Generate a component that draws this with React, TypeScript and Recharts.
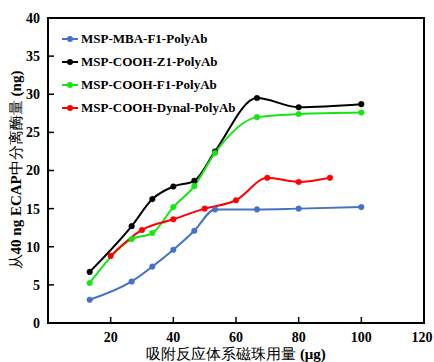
import { LineChart, Line, XAxis, YAxis } from "recharts";

const doseA = [13.3, 26.7, 33.3, 40, 46.7, 53.3, 66.7, 80, 100];
const doseDynal = [20, 30, 40, 50, 60, 70, 80, 90];

const mbaF1 = [3.05, 5.45, 7.4, 9.6, 12.1, 14.9, 14.9, 15.0, 15.2];
const coohZ1 = [6.7, 12.7, 16.25, 17.9, 18.65, 22.5, 29.5, 28.3, 28.7];
const coohF1 = [5.25, 11.0, 11.8, 15.2, 17.95, 22.3, 27.0, 27.4, 27.6];
const coohDynal = [8.8, 12.2, 13.6, 15.0, 16.1, 19.05, 18.5, 19.05];

const xTicks = [20, 40, 60, 80, 100, 120];
const yTicks = [0, 5, 10, 15, 20, 25, 30, 35, 40];

const toPoints = (xs: number[], ys: number[]) => xs.map((x, i) => ({ x, y: ys[i] }));

const series = [
  { name: "MSP-MBA-F1-PolyAb", color: "#4472c4", data: toPoints(doseA, mbaF1) },
  { name: "MSP-COOH-Z1-PolyAb", color: "#000000", data: toPoints(doseA, coohZ1) },
  { name: "MSP-COOH-F1-PolyAb", color: "#14e614", data: toPoints(doseA, coohF1) },
  { name: "MSP-COOH-Dynal-PolyAb", color: "#ff0000", data: toPoints(doseDynal, coohDynal) },
];

const serif = '"Liberation Serif", "Times New Roman", serif';
const MARGIN = 8;

// ticks point inward: a thin rect for the mark, then the label
const XTick = (p: any) => {
  const axisY = p.y - MARGIN;
  return (
    <g>
      {p.payload.value !== 120 ? <rect x={p.x - 0.75} y={axisY - 6} width={1.5} height={6} fill="#000" /> : null}
      <text x={p.x} y={p.y} dy="0.75em" textAnchor="middle" fontFamily={serif} fontWeight={700} fontSize={14} fill="#000">
        {p.payload.value}
      </text>
    </g>
  );
};

const YTick = (p: any) => {
  const axisX = p.x + MARGIN;
  return (
    <g>
      {p.payload.value !== 0 && p.payload.value !== 40 ? (
        <rect x={axisX} y={p.y - 0.75} width={6} height={1.5} fill="#000" />
      ) : null}
      <text x={p.x} y={p.y} dy="0.35em" textAnchor="end" fontFamily={serif} fontWeight={700} fontSize={14} fill="#000">
        {p.payload.value}
      </text>
    </g>
  );
};

export default function App() {
  return (
    <div style={{ position: "absolute", left: 0, top: 0, width: 434, height: 362, background: "#fff" }}>
      <LineChart width={434} height={362} margin={{ top: 18, right: 10, bottom: 19, left: 8 }}>
        <XAxis
          dataKey="x"
          type="number"
          domain={[0, 120]}
          ticks={xTicks}
          height={20}
          tick={<XTick />}
          tickSize={0}
          tickMargin={MARGIN}
          axisLine={false}
          tickLine={false}
          allowDuplicatedCategory={false}
        />
        <YAxis
          type="number"
          domain={[0, 40]}
          ticks={yTicks}
          width={40}
          tick={<YTick />}
          tickSize={0}
          tickMargin={MARGIN}
          axisLine={false}
          tickLine={false}
        />
        {series.map((s) => (
          <Line
            key={s.name}
            data={s.data}
            dataKey="y"
            name={s.name}
            type="monotone"
            stroke={s.color}
            strokeWidth={2}
            dot={{ r: 2.8, fill: s.color, stroke: s.color, strokeWidth: 0.5 }}
            isAnimationActive={false}
          />
        ))}
      </LineChart>
      {/* plot frame */}
      <div
        style={{
          position: "absolute",
          left: 47,
          top: 17,
          width: 378,
          height: 307,
          boxSizing: "border-box",
          border: "2px solid #000",
          pointerEvents: "none",
        }}
      />
      <div
        style={{
          position: "absolute",
          left: 62,
          top: 27,
          fontFamily: serif,
          fontWeight: 700,
          fontSize: 13,
        }}
      >
        {series.map((s) => (
          <div key={s.name} style={{ display: "flex", alignItems: "center", height: 23 }}>
            <div style={{ position: "relative", width: 16, height: 8, marginRight: 3 }}>
              <div style={{ position: "absolute", left: 0, top: 3, width: 16, height: 2, background: s.color }} />
              <div
                style={{
                  position: "absolute",
                  left: 5,
                  top: 1,
                  width: 6,
                  height: 6,
                  borderRadius: 3,
                  background: s.color,
                }}
              />
            </div>
            <span>{s.name}</span>
          </div>
        ))}
      </div>
      <div
        style={{
          position: "absolute",
          left: 48,
          width: 376,
          top: 345,
          textAlign: "center",
          fontFamily: serif,
          fontSize: 15,
          whiteSpace: "nowrap",
        }}
      >
        吸附反应体系磁珠用量 <b>(μg)</b>
      </div>
      <div
        style={{
          position: "absolute",
          left: 16,
          top: 170,
          transform: "translate(-50%, -50%) rotate(-90deg)",
          fontFamily: serif,
          fontSize: 15,
          whiteSpace: "nowrap",
        }}
      >
        从<b>40 ng ECAP</b>中分离酶量 <b>(ng)</b>
      </div>
    </div>
  );
}
